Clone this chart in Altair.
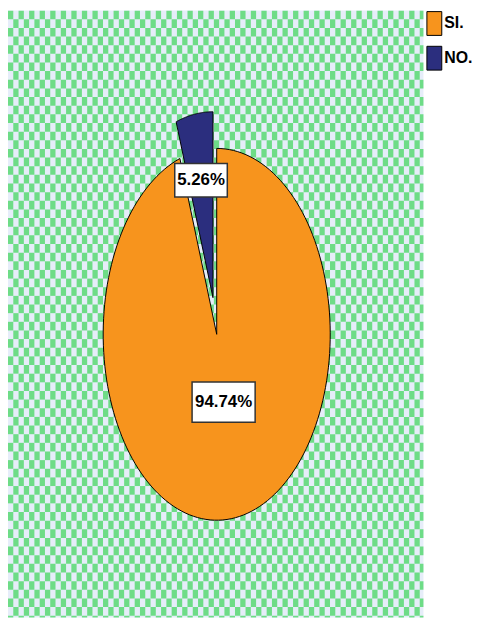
import altair as alt
import pandas as pd

# ---- data ----
categories = ["SI.", "NO."]
percents = [94.74, 5.26]
colors = ["#F7941D", "#2B2E7E"]

df = pd.DataFrame({"cat": categories, "value": percents, "idx": list(range(len(categories)))})

# ---- layout ----
W, H = 419, 612
CX, CY, RA, RB = 210.5, 326.5, 114.5, 187.5
xdom = [-CX / RA, (W - CX) / RA]
ydom = [-(H - CY) / RB, CY / RB]
xs = alt.Scale(domain=xdom, nice=False, zero=False)
ys = alt.Scale(domain=ydom, nice=False, zero=False)

FONT = "Liberation Sans Narrow, Noto Sans ExtraCondensed, Noto Sans Condensed, Liberation Sans, Arial, sans-serif"

# ---- checkered background ----
CELL = 0.0465
NC, NR = 80, 73
bg = (
    alt.Chart(alt.sequence(0, NC * NR, as_="i"))
    .transform_calculate(col=f"datum.i % {NC}", row=f"floor(datum.i / {NC})")
    .transform_filter("(datum.col + datum.row) % 2 == 0")
    .transform_calculate(
        x0=f"{xdom[0]} + datum.col * {CELL}",
        x1=f"{xdom[0]} + (datum.col + 1) * {CELL}",
        y0=f"{ydom[1]} - datum.row * {CELL}",
        y1=f"{ydom[1]} - (datum.row + 1) * {CELL}",
    )
    .mark_rect(fill="#6EDC87", clip=True, strokeWidth=0)
    .encode(
        x=alt.X("x0:Q", scale=xs, axis=None),
        x2="x1:Q",
        y=alt.Y("y0:Q", scale=ys, axis=None),
        y2="y1:Q",
    )
)

# ---- pie geometry ----
base = (
    alt.Chart(df)
    .transform_joinaggregate(total="sum(value)")
    .transform_window(cum="sum(value)", sort=[alt.SortField("idx")], frame=[None, 0])
    .transform_calculate(
        t1="datum.cum / datum.total",
        t0="(datum.cum - datum.value) / datum.total",
        mid="(datum.t0 + datum.t1) / 2",
        explode="datum.cat == 'NO.' ? 0.2 : 0",
        ox="datum.explode * sin(2 * PI * datum.mid)",
        oy="datum.explode * cos(2 * PI * datum.mid)",
    )
)

N = 160
pie = (
    base.transform_calculate(pts=f"sequence(0, {N + 2})")
    .transform_flatten(["pts"])
    .transform_calculate(
        ang=f"2 * PI * (datum.t0 + (datum.t1 - datum.t0) * min(datum.pts, {N}) / {N})",
        px=f"datum.ox + (datum.pts > {N} ? 0 : sin(datum.ang))",
        py=f"datum.oy + (datum.pts > {N} ? 0 : cos(datum.ang))",
    )
    .mark_line(interpolate="linear-closed", stroke="black", strokeWidth=1)
    .encode(
        x=alt.X("px:Q", scale=xs, axis=None),
        y=alt.Y("py:Q", scale=ys, axis=None),
        fill=alt.Fill(
            "cat:N",
            scale=alt.Scale(domain=categories, range=colors),
            legend=alt.Legend(
                title=None,
                orient="none",
                legendX=422,
                legendY=5,
                padding=0,
                symbolType="M-1,-1.6L1,-1.6L1,1.6L-1,1.6Z",
                symbolSize=225,
                symbolStrokeColor="black",
                symbolStrokeWidth=1,
                symbolOpacity=1,
                labelFont=FONT,
                labelFontWeight="bold",
                labelFontSize=16,
                labelColor="black",
                labelOffset=2,
                rowPadding=7,
            ),
        ),
        order=alt.Order("pts:Q"),
    )
)

# ---- labels ----
lab = base.transform_calculate(
    lr="datum.cat == 'NO.' ? 0.64 : 0.37",
    lx="datum.ox + datum.lr * sin(2 * PI * datum.mid)",
    ly="datum.oy + datum.lr * cos(2 * PI * datum.mid)",
    label="format(datum.value, '.2f') + '%'",
    bs="pow(10.6 * length(datum.label), 2)",
)

box = lab.mark_point(
    shape="M-1,-0.64L1,-0.64L1,0.64L-1,0.64Z",
    filled=True,
    fill="white",
    stroke="#333333",
    strokeWidth=1.5,
    opacity=1,
).encode(
    x=alt.X("lx:Q", scale=xs, axis=None),
    y=alt.Y("ly:Q", scale=ys, axis=None),
    size=alt.Size("bs:Q", scale=None, legend=None),
)

txt = lab.mark_text(
    font=FONT, fontWeight="bold", fontSize=17, color="black", align="center", baseline="middle"
).encode(
    x=alt.X("lx:Q", scale=xs, axis=None),
    y=alt.Y("ly:Q", scale=ys, axis=None),
    text="label:N",
)

chart = (
    alt.layer(bg, pie, box, txt)
    .properties(width=W, height=H, padding=0, background="white")
    .configure_view(fill="#E6EDF9", strokeWidth=0)
)

chart.save("out.html", embed_options={"renderer": "svg", "actions": False})
